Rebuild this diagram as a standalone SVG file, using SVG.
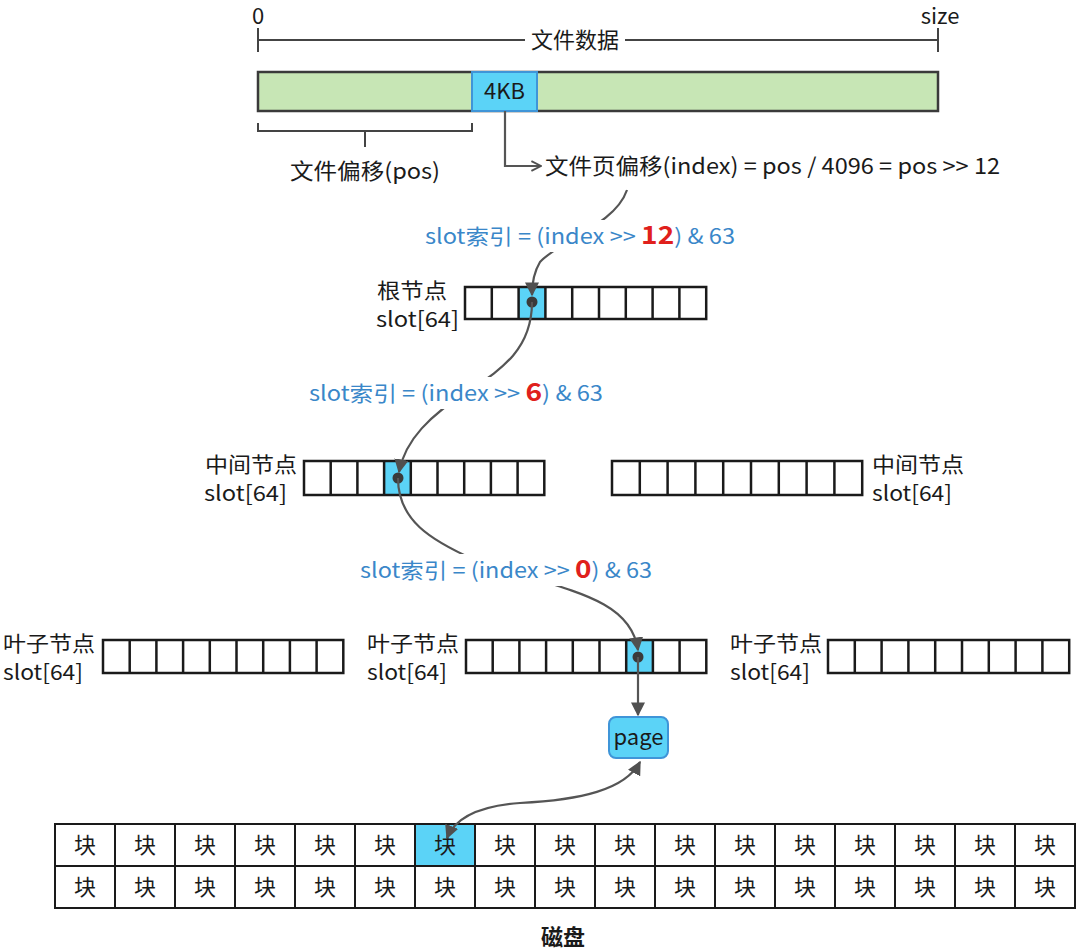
<svg xmlns="http://www.w3.org/2000/svg" width="1080" height="951" viewBox="0 0 1080 951">
<style>
text{font-family:"Noto Sans CJK SC","Noto Sans",sans-serif;fill:#1a1a1a}
.t{font-size:22px}
.n{font-size:21px}
.lbl{font-size:21px;fill:#3a87c9}
.red{fill:#e0201c;font-weight:bold;font-size:25px}
.cell{fill:none;stroke:#1a1a1a;stroke-width:2.5}
.hl{fill:#5bd3f7}
.con{fill:none;stroke:#555;stroke-width:2.2}
.blk{font-size:22px;text-anchor:middle}
.dk{fill:none;stroke:#1a1a1a;stroke-width:2}
</style>
<defs>
<marker id="ah" viewBox="0 0 10 10" refX="9" refY="5" markerWidth="12" markerHeight="12" orient="auto" markerUnits="userSpaceOnUse">
<path d="M1,1 L9,5 L1,9" fill="none" stroke="#505050" stroke-width="1.6"/>
</marker>
<marker id="ah2" viewBox="0 0 10 10" refX="9" refY="5" markerWidth="14" markerHeight="14" orient="auto-start-reverse" markerUnits="userSpaceOnUse">
<path d="M0,0 L10,5 L0,10 z" fill="#505050"/>
</marker>
</defs>
<rect width="1080" height="951" fill="#fff"/>

<g id="filedata">
<path d="M258,28 V52 M938,28 V52 M258,40 H525 M625,40 H938" fill="none" stroke="#444" stroke-width="2"/>
<text class="t" x="258" y="24" text-anchor="middle">0</text>
<text class="t" x="940" y="24" text-anchor="middle">size</text>
<text class="t" x="575" y="48" text-anchor="middle" font-size="23">文件数据</text>
<rect x="258" y="72" width="680" height="39" fill="#c7e6b5" stroke="#3a3a3a" stroke-width="2.5"/>
</g>
<g id="page4kb">
<rect x="472" y="72" width="65" height="39" fill="#5bd3f7" stroke="#3f95d8" stroke-width="2"/>
<text class="t" x="504.5" y="99" text-anchor="middle" font-size="21">4KB</text>
</g>
<g id="pos">
<path d="M258,123 V131 H472 V123 M365,131 V147" fill="none" stroke="#444" stroke-width="2"/>
<text class="t" x="365" y="179" text-anchor="middle" textLength="150" lengthAdjust="spacingAndGlyphs">文件偏移(pos)</text>
</g>
<g id="index">
<text class="t" x="545" y="174" textLength="455" lengthAdjust="spacingAndGlyphs">文件页偏移(index) = pos / 4096 = pos &gt;&gt; 12</text>
</g>

<g id="root">
<rect class="hl" x="518.6" y="287" width="26.8" height="32"/>
<rect class="cell" x="465" y="287" width="241.2" height="32"/>
<path class="cell" d="M491.8,287v32M518.6,287v32M545.4,287v32M572.2,287v32M599,287v32M625.8,287v32M652.6,287v32M679.4,287v32"/>
<circle cx="532" cy="302" r="5.5" fill="#3a3a3a"/>
<text class="n" x="377" y="298" textLength="70" lengthAdjust="spacingAndGlyphs">根节点</text>
<text class="n" x="376" y="327" textLength="83" lengthAdjust="spacingAndGlyphs">slot[64]</text>
</g>

<g id="midleft">
<rect class="hl" x="384.1" y="461" width="26.7" height="34"/>
<rect class="cell" x="304" y="461" width="240.3" height="34"/>
<path class="cell" d="M330.7,461v34M357.4,461v34M384.1,461v34M410.8,461v34M437.5,461v34M464.2,461v34M490.9,461v34M517.6,461v34"/>
<circle cx="398" cy="478" r="5.5" fill="#3a3a3a"/>
<text class="n" x="205" y="472" textLength="92" lengthAdjust="spacingAndGlyphs">中间节点</text>
<text class="n" x="204" y="501" textLength="83" lengthAdjust="spacingAndGlyphs">slot[64]</text>
</g>

<g id="midright">
<rect class="cell" x="612" y="461" width="250.2" height="34"/>
<path class="cell" d="M639.8,461v34M667.6,461v34M695.4,461v34M723.2,461v34M751,461v34M778.8,461v34M806.6,461v34M834.4,461v34"/>
<text class="n" x="872" y="472" textLength="92" lengthAdjust="spacingAndGlyphs">中间节点</text>
<text class="n" x="872" y="501" textLength="80" lengthAdjust="spacingAndGlyphs">slot[64]</text>
</g>

<g id="leafleft">
<rect class="cell" x="103" y="640" width="240.3" height="33"/>
<path class="cell" d="M129.7,640v33M156.4,640v33M183.1,640v33M209.8,640v33M236.5,640v33M263.2,640v33M289.9,640v33M316.6,640v33"/>
<text class="n" x="3" y="651" textLength="92" lengthAdjust="spacingAndGlyphs">叶子节点</text>
<text class="n" x="3" y="680" textLength="80" lengthAdjust="spacingAndGlyphs">slot[64]</text>
</g>

<g id="leafmid">
<rect class="hl" x="626.2" y="640" width="26.7" height="33"/>
<rect class="cell" x="466" y="640" width="240.3" height="33"/>
<path class="cell" d="M492.7,640v33M519.4,640v33M546.1,640v33M572.8,640v33M599.5,640v33M626.2,640v33M652.9,640v33M679.6,640v33"/>
<circle cx="638" cy="657" r="5.5" fill="#3a3a3a"/>
<text class="n" x="367" y="651" textLength="92" lengthAdjust="spacingAndGlyphs">叶子节点</text>
<text class="n" x="367" y="680" textLength="80" lengthAdjust="spacingAndGlyphs">slot[64]</text>
</g>

<g id="leafright">
<rect class="cell" x="828" y="640" width="241.2" height="33"/>
<path class="cell" d="M854.8,640v33M881.6,640v33M908.4,640v33M935.2,640v33M962,640v33M988.8,640v33M1015.6,640v33M1042.4,640v33"/>
<text class="n" x="730" y="651" textLength="92" lengthAdjust="spacingAndGlyphs">叶子节点</text>
<text class="n" x="730" y="680" textLength="80" lengthAdjust="spacingAndGlyphs">slot[64]</text>
</g>

<g id="page">
<rect x="609" y="717" width="59" height="41" rx="7" fill="#5bd3f7" stroke="#3f95d8" stroke-width="2"/>
<text class="t" x="638.5" y="745" text-anchor="middle">page</text>
</g>

<g id="disk">
<rect class="hl" x="415" y="824" width="60" height="42"/>
<rect class="dk" x="55" y="824" width="1020" height="84"/>
<path class="dk" d="M55,866H1075M115,824v84M175,824v84M235,824v84M295,824v84M355,824v84M415,824v84M475,824v84M535,824v84M595,824v84M655,824v84M715,824v84M775,824v84M835,824v84M895,824v84M955,824v84M1015,824v84"/>
<g>
<text class="blk" x="85" y="853">块</text><text class="blk" x="145" y="853">块</text><text class="blk" x="205" y="853">块</text><text class="blk" x="265" y="853">块</text><text class="blk" x="325" y="853">块</text><text class="blk" x="385" y="853">块</text><text class="blk" x="445" y="853">块</text><text class="blk" x="505" y="853">块</text><text class="blk" x="565" y="853">块</text><text class="blk" x="625" y="853">块</text><text class="blk" x="685" y="853">块</text><text class="blk" x="745" y="853">块</text><text class="blk" x="805" y="853">块</text><text class="blk" x="865" y="853">块</text><text class="blk" x="925" y="853">块</text><text class="blk" x="985" y="853">块</text><text class="blk" x="1045" y="853">块</text>
<text class="blk" x="85" y="895">块</text><text class="blk" x="145" y="895">块</text><text class="blk" x="205" y="895">块</text><text class="blk" x="265" y="895">块</text><text class="blk" x="325" y="895">块</text><text class="blk" x="385" y="895">块</text><text class="blk" x="445" y="895">块</text><text class="blk" x="505" y="895">块</text><text class="blk" x="565" y="895">块</text><text class="blk" x="625" y="895">块</text><text class="blk" x="685" y="895">块</text><text class="blk" x="745" y="895">块</text><text class="blk" x="805" y="895">块</text><text class="blk" x="865" y="895">块</text><text class="blk" x="925" y="895">块</text><text class="blk" x="985" y="895">块</text><text class="blk" x="1045" y="895">块</text>
</g>
<text x="563" y="945" text-anchor="middle" font-size="22" font-weight="bold">磁盘</text>
</g>

<g id="connectors">
<path class="con" d="M505,111 V166 H541" marker-end="url(#ah)"/>
<path class="con" d="M627,190 C615,225 560,240 540,262 C534,272 532,282 532,295" marker-end="url(#ah2)"/>
<path class="con" d="M532,302 C532,350 500,370 470,390 C430,415 405,440 399,472" marker-end="url(#ah2)"/>
<path class="con" d="M398,478 C398,520 430,540 475,560 C560,590 630,595 638,650" marker-end="url(#ah2)"/>
<path class="con" d="M638,657 V715" marker-end="url(#ah2)"/>
<path class="con" d="M640,762 C625,790 580,800 520,803 C480,806 455,818 447,838" marker-start="url(#ah2)" marker-end="url(#ah2)"/>
</g>

<g id="label12">
<rect x="420" y="220" width="320" height="32" fill="#fff"/>
<text class="lbl" x="425" y="244" textLength="310" lengthAdjust="spacingAndGlyphs">slot索引 = (index &gt;&gt; <tspan class="red">12</tspan>) &amp; 63</text>
</g>
<g id="label6">
<rect x="305" y="377" width="302" height="32" fill="#fff"/>
<text class="lbl" x="309" y="401" textLength="294" lengthAdjust="spacingAndGlyphs">slot索引 = (index &gt;&gt; <tspan class="red">6</tspan>) &amp; 63</text>
</g>
<g id="label0">
<rect x="356" y="554" width="300" height="32" fill="#fff"/>
<text class="lbl" x="360" y="578" textLength="292" lengthAdjust="spacingAndGlyphs">slot索引 = (index &gt;&gt; <tspan class="red">0</tspan>) &amp; 63</text>
</g>
</svg>
